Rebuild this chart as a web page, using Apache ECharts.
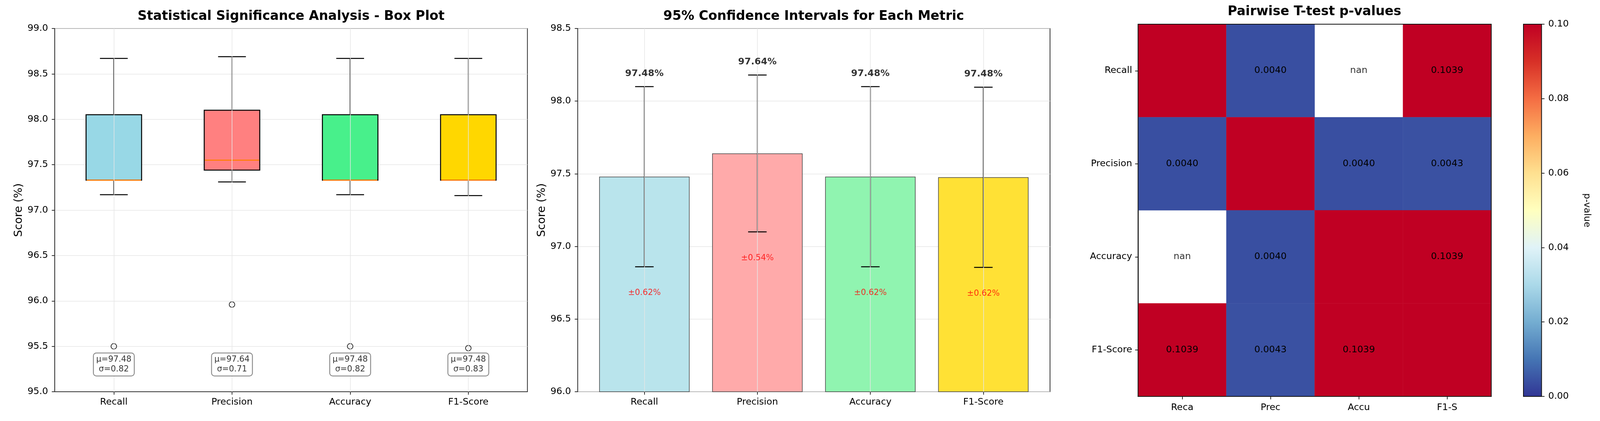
<!DOCTYPE html>
<html><head><meta charset="utf-8">
<script src="https://cdn.jsdelivr.net/npm/echarts@6/dist/echarts.min.js"></script>
<style>html,body{margin:0;padding:0;background:#fff;overflow:hidden}#c{width:100vw;height:100vh}</style>
</head><body><div id="c"></div>
<script>
// ---------- data ----------
const metrics = ['Recall', 'Precision', 'Accuracy', 'F1-Score'];
const heatXLabels = ['Reca', 'Prec', 'Accu', 'F1-S'];
const boxLow = [97.17, 97.31, 97.17, 97.16];
const boxQ1 = [97.33, 97.44, 97.33, 97.33];
const boxMedian = [97.33, 97.55, 97.33, 97.33];
const boxQ3 = [98.05, 98.10, 98.05, 98.05];
const boxHigh = [98.67, 98.69, 98.67, 98.67];
const outliers = [95.50, 95.96, 95.50, 95.48];
const means = [97.48, 97.64, 97.48, 97.476];
const stds = [0.82, 0.71, 0.82, 0.83];
const ci95 = [0.62, 0.54, 0.62, 0.62];
const pValues = [
  [1.0, 0.0040, null, 0.1039],
  [0.0040, 1.0, 0.0040, 0.0043],
  [null, 0.0040, 1.0, 0.1039],
  [0.1039, 0.0043, 0.1039, 1.0]
];
const colorbarTicks = [0, 0.02, 0.04, 0.06, 0.08, 0.10];

// ---------- layout scaling (design is 4326 x 1079) ----------
const SX = window.innerWidth / 4326, SY = window.innerHeight / 1079, SF = Math.min(SX, SY);
const X = v => v * SX, Y = v => v * SY, F = v => v * SF;

// ---------- styles ----------
const FONT = 'DejaVu Sans';
const boxColors = ['#98D8E6', '#FF8080', '#48F08B', '#FFD700'];
const barColors = ['#B9E4EC', '#FFAAAA', '#90F4B0', '#FFE135'];
const rdylbu_r = ['#313695', '#4575b4', '#74add1', '#abd9e9', '#e0f3f8', '#ffffbf',
                  '#fee090', '#fdae61', '#f46d43', '#d73027', '#c00023'];
const gridLineColor = '#e6e6e6';
const frameColor = '#333';

const chart = echarts.init(document.getElementById('c'));

const boxData = metrics.map((m, i) => [i, boxLow[i], boxQ1[i], boxMedian[i], boxQ3[i], boxHigh[i]]);
const outlierData = metrics.map((m, i) => [i, outliers[i]]);
const statData = metrics.map((m, i) => [i, 95.30, means[i], stds[i]]);
const barData = metrics.map((m, i) => ({value: means[i], itemStyle: {color: barColors[i]}}));
const errData = metrics.map((m, i) => [i, means[i] - ci95[i], means[i] + ci95[i]]);
const topLabelData = metrics.map((m, i) => [i, means[i] + ci95[i] + 0.09, means[i]]);
const ciLabelData = metrics.map((m, i) => [i, means[i] - ci95[i] - 0.18, ci95[i]]);
const heatData = [], nanData = [];
pValues.forEach((row, r) => row.forEach((v, c) => {
  if (v === null) { nanData.push([c, r]); return; }
  heatData.push([c, r, Math.min(v, 0.1), r === c ? '' : v.toFixed(4)]);
}));

const tickLabelStyle = {fontFamily: FONT, fontSize: F(25), color: '#000'};
function vLines() {
  return {
    silent: true, symbol: 'none', label: {show: false},
    lineStyle: {color: gridLineColor, width: 1.5, type: 'solid'},
    data: metrics.map(m => ({xAxis: m}))
  };
}
const gradStops = rdylbu_r.map((c, i) => ({offset: 1 - i / (rdylbu_r.length - 1), color: c}));

const option = {
  backgroundColor: '#fff',
  animation: false,
  textStyle: {fontFamily: FONT},
  title: [
    {text: 'Statistical Significance Analysis - Box Plot', left: X(787), top: Y(26), textAlign: 'center', padding: 0,
     textStyle: {fontFamily: FONT, fontSize: F(35), fontWeight: 'bold', color: '#000'}},
    {text: '95% Confidence Intervals for Each Metric', left: X(2200), top: Y(26), textAlign: 'center', padding: 0,
     textStyle: {fontFamily: FONT, fontSize: F(35), fontWeight: 'bold', color: '#000'}},
    {text: 'Pairwise T-test p-values', left: X(3554), top: Y(14), textAlign: 'center', padding: 0,
     textStyle: {fontFamily: FONT, fontSize: F(35), fontWeight: 'bold', color: '#000'}}
  ],
  grid: [
    {left: X(148), top: Y(73), width: X(1278), height: Y(931), show: true, borderColor: frameColor, borderWidth: 2, backgroundColor: 'transparent'},
    {left: X(1562), top: Y(73), width: X(1277), height: Y(931), show: true, borderColor: frameColor, borderWidth: 2, backgroundColor: 'transparent'},
    {left: X(1589.5), top: Y(73), width: X(1222), height: Y(931)},
    {left: X(3077), top: Y(62), width: X(955), height: Y(954), show: true, borderColor: '#111', borderWidth: 2, backgroundColor: 'transparent', z: 5},
    {left: X(4119), top: Y(62), width: X(49), height: Y(954), show: true, borderColor: '#111', borderWidth: 2, backgroundColor: 'transparent', z: 10}
  ],
  xAxis: [
    {gridIndex: 0, type: 'category', data: metrics, boundaryGap: true,
     axisLine: {show: true, lineStyle: {color: frameColor, width: 2}},
     axisTick: {show: true, alignWithLabel: true, length: F(8), lineStyle: {color: frameColor, width: 2}},
     axisLabel: Object.assign({margin: F(16)}, tickLabelStyle), splitLine: {show: false}},
    {gridIndex: 1, type: 'value', min: 0, max: 1, show: false},
    {gridIndex: 2, type: 'category', data: metrics, boundaryGap: true,
     axisLine: {show: false},
     axisTick: {show: true, alignWithLabel: true, length: F(8), lineStyle: {color: frameColor, width: 2}},
     axisLabel: Object.assign({margin: F(16)}, tickLabelStyle), splitLine: {show: false}},
    {gridIndex: 3, type: 'category', data: heatXLabels, boundaryGap: true,
     axisLine: {show: true, lineStyle: {color: '#111', width: 2}},
     axisTick: {show: true, alignWithLabel: true, length: F(8), lineStyle: {color: frameColor, width: 2}},
     axisLabel: Object.assign({margin: F(18)}, tickLabelStyle), splitLine: {show: false}},
    {gridIndex: 4, type: 'category', data: ['cb'], show: false}
  ],
  yAxis: [
    {gridIndex: 0, type: 'value', min: 95, max: 99, interval: 0.5,
     name: 'Score (%)', nameLocation: 'middle', nameGap: F(82),
     nameTextStyle: {fontFamily: FONT, fontSize: F(30), color: '#000'},
     axisLine: {show: true, lineStyle: {color: frameColor, width: 2}},
     axisTick: {show: true, length: F(8), lineStyle: {color: frameColor, width: 2}},
     axisLabel: Object.assign({margin: F(18), formatter: v => v.toFixed(1)}, tickLabelStyle),
     splitLine: {show: true, lineStyle: {color: gridLineColor, width: 1.5}}},
    {gridIndex: 1, type: 'value', min: 96, max: 98.5, interval: 0.5,
     name: 'Score (%)', nameLocation: 'middle', nameGap: F(82),
     nameTextStyle: {fontFamily: FONT, fontSize: F(30), color: '#000'},
     axisLine: {show: true, lineStyle: {color: frameColor, width: 2}},
     axisTick: {show: true, length: F(8), lineStyle: {color: frameColor, width: 2}},
     axisLabel: Object.assign({margin: F(18), formatter: v => v.toFixed(1)}, tickLabelStyle),
     splitLine: {show: true, lineStyle: {color: gridLineColor, width: 1.5}}},
    {gridIndex: 2, type: 'value', min: 96, max: 98.5, show: false},
    {gridIndex: 3, type: 'category', data: metrics, inverse: true, boundaryGap: true,
     axisLine: {show: true, lineStyle: {color: '#111', width: 2}},
     axisTick: {show: true, alignWithLabel: true, length: F(8), lineStyle: {color: frameColor, width: 2}},
     axisLabel: Object.assign({margin: F(16)}, tickLabelStyle), splitLine: {show: false}},
    {gridIndex: 4, type: 'value', position: 'right', min: colorbarTicks[0], max: colorbarTicks[colorbarTicks.length - 1], interval: 0.02,
     name: 'p-value', nameLocation: 'middle', nameGap: F(110), nameRotate: -90,
     nameTextStyle: {fontFamily: FONT, fontSize: F(25), color: '#000'},
     axisLine: {show: false},
     axisTick: {show: true, length: F(8), lineStyle: {color: frameColor, width: 2}},
     axisLabel: Object.assign({margin: F(18), formatter: v => v.toFixed(2)}, tickLabelStyle),
     splitLine: {show: false}}
  ],
  visualMap: {
    show: false, type: 'continuous', min: 0, max: 0.1, dimension: 2, seriesIndex: 8,
    inRange: {color: rdylbu_r}
  },
  series: [
    // 0 vertical grid lines box plot
    {type: 'line', xAxisIndex: 0, yAxisIndex: 0, data: [], z: 1, silent: true, markLine: vLines()},
    // 1 box plot (custom)
    {type: 'custom', xAxisIndex: 0, yAxisIndex: 0, data: boxData, z: 3,
     encode: {x: 0, y: [1, 2, 3, 4, 5]},
     renderItem: function (params, api) {
       const i = api.value(0);
       const band = api.size([1, 0])[0];
       const bw = band * 0.47, cw = bw / 2;
       const xc = api.coord([i, api.value(1)])[0];
       const yLow = api.coord([i, api.value(1)])[1];
       const yQ1 = api.coord([i, api.value(2)])[1];
       const yMed = api.coord([i, api.value(3)])[1];
       const yQ3 = api.coord([i, api.value(4)])[1];
       const yHigh = api.coord([i, api.value(5)])[1];
       const ls = {stroke: '#000', lineWidth: 2.5};
       return {type: 'group', children: [
         {type: 'line', shape: {x1: xc, y1: yLow, x2: xc, y2: yQ1}, style: ls},
         {type: 'line', shape: {x1: xc, y1: yQ3, x2: xc, y2: yHigh}, style: ls},
         {type: 'line', shape: {x1: xc - cw / 2, y1: yLow, x2: xc + cw / 2, y2: yLow}, style: ls},
         {type: 'line', shape: {x1: xc - cw / 2, y1: yHigh, x2: xc + cw / 2, y2: yHigh}, style: ls},
         {type: 'rect', shape: {x: xc - bw / 2, y: yQ3, width: bw, height: yQ1 - yQ3},
          style: {fill: boxColors[i], stroke: '#000', lineWidth: 2.5}},
         {type: 'line', shape: {x1: xc - bw / 2 + 1.5, y1: yMed, x2: xc + bw / 2 - 1.5, y2: yMed},
          style: {stroke: '#ff7f0e', lineWidth: 3}}
       ]};
     }},
    // 2 outliers
    {type: 'scatter', xAxisIndex: 0, yAxisIndex: 0, data: outlierData, z: 4,
     symbol: 'circle', symbolSize: F(15),
     itemStyle: {color: 'rgba(255,255,255,0)', borderColor: '#000', borderWidth: 2}},
    // 3 mean/std annotations
    {type: 'scatter', xAxisIndex: 0, yAxisIndex: 0, data: statData, z: 5, symbolSize: 0,
     label: {show: true, position: 'inside', fontFamily: FONT, fontSize: F(22), color: '#000', lineHeight: F(26),
             backgroundColor: '#fff', borderColor: '#444', borderWidth: 1.5, borderRadius: 7, padding: [F(5), F(7), F(4), F(7)],
             formatter: p => 'μ=' + p.data[2].toFixed(2) + '\nσ=' + p.data[3].toFixed(2)}},
    // 4 vertical grid lines panel 2
    {type: 'line', xAxisIndex: 2, yAxisIndex: 2, data: [], z: 1, silent: true, markLine: vLines()},
    // 5 bars
    {type: 'bar', xAxisIndex: 2, yAxisIndex: 2, data: barData, barWidth: '80%', z: 2,
     itemStyle: {borderColor: '#444', borderWidth: 1.5}},
    // 6 error bars
    {type: 'custom', xAxisIndex: 2, yAxisIndex: 2, data: errData, z: 4,
     encode: {x: 0, y: [1, 2]},
     renderItem: function (params, api) {
       const i = api.value(0);
       const lo = api.coord([i, api.value(1)]);
       const hi = api.coord([i, api.value(2)]);
       const xc = lo[0], cw = X(50);
       const ls = {stroke: '#000', lineWidth: 2.5};
       return {type: 'group', children: [
         {type: 'line', shape: {x1: xc, y1: lo[1], x2: xc, y2: hi[1]}, style: ls},
         {type: 'line', shape: {x1: xc - cw / 2, y1: lo[1], x2: xc + cw / 2, y2: lo[1]}, style: ls},
         {type: 'line', shape: {x1: xc - cw / 2, y1: hi[1], x2: xc + cw / 2, y2: hi[1]}, style: ls}
       ]};
     }},
    // 7 top mean labels
    {type: 'scatter', xAxisIndex: 2, yAxisIndex: 2, data: topLabelData, z: 5, symbolSize: 0,
     label: {show: true, position: 'inside', fontFamily: FONT, fontSize: F(25), fontWeight: 'bold', color: '#000',
             formatter: p => p.data[2].toFixed(2) + '%'}},
    // 8 heatmap
    {type: 'heatmap', xAxisIndex: 3, yAxisIndex: 3, data: heatData, z: 2,
     encode: {x: 0, y: 1, value: 2},
     itemStyle: {borderWidth: 0},
     label: {show: true, fontFamily: FONT, fontSize: F(25), color: '#000', formatter: p => p.data[3]}},
    // 9 ci labels
    {type: 'scatter', xAxisIndex: 2, yAxisIndex: 2, data: ciLabelData, z: 5, symbolSize: 0,
     label: {show: true, position: 'inside', fontFamily: FONT, fontSize: F(22), color: '#ff0000',
             formatter: p => '±' + p.data[2].toFixed(2) + '%'}},
    // 10 nan labels in heatmap
    {type: 'scatter', xAxisIndex: 3, yAxisIndex: 3, data: nanData, z: 5, symbolSize: 0,
     label: {show: true, position: 'inside', fontFamily: FONT, fontSize: F(25), color: '#000', formatter: 'nan'}},
    // 11 colorbar (gradient of the RdYlBu_r colormap over 0..0.1)
    {type: 'custom', xAxisIndex: 4, yAxisIndex: 4, data: [[0, colorbarTicks[0], colorbarTicks[colorbarTicks.length - 1]]], z: 2,
     encode: {x: 0, y: [1, 2]},
     renderItem: function (params, api) {
       const lo = api.coord([0, api.value(1)]);
       const hi = api.coord([0, api.value(2)]);
       const w = api.size([1, 0])[0];
       return {type: 'rect', shape: {x: lo[0] - w / 2, y: hi[1], width: w, height: lo[1] - hi[1]},
               style: {fill: new echarts.graphic.LinearGradient(0, 0, 0, 1, gradStops)}};
     }}
  ]
};
chart.setOption(option);
window.addEventListener('resize', () => chart.resize());
</script>
</body></html>
